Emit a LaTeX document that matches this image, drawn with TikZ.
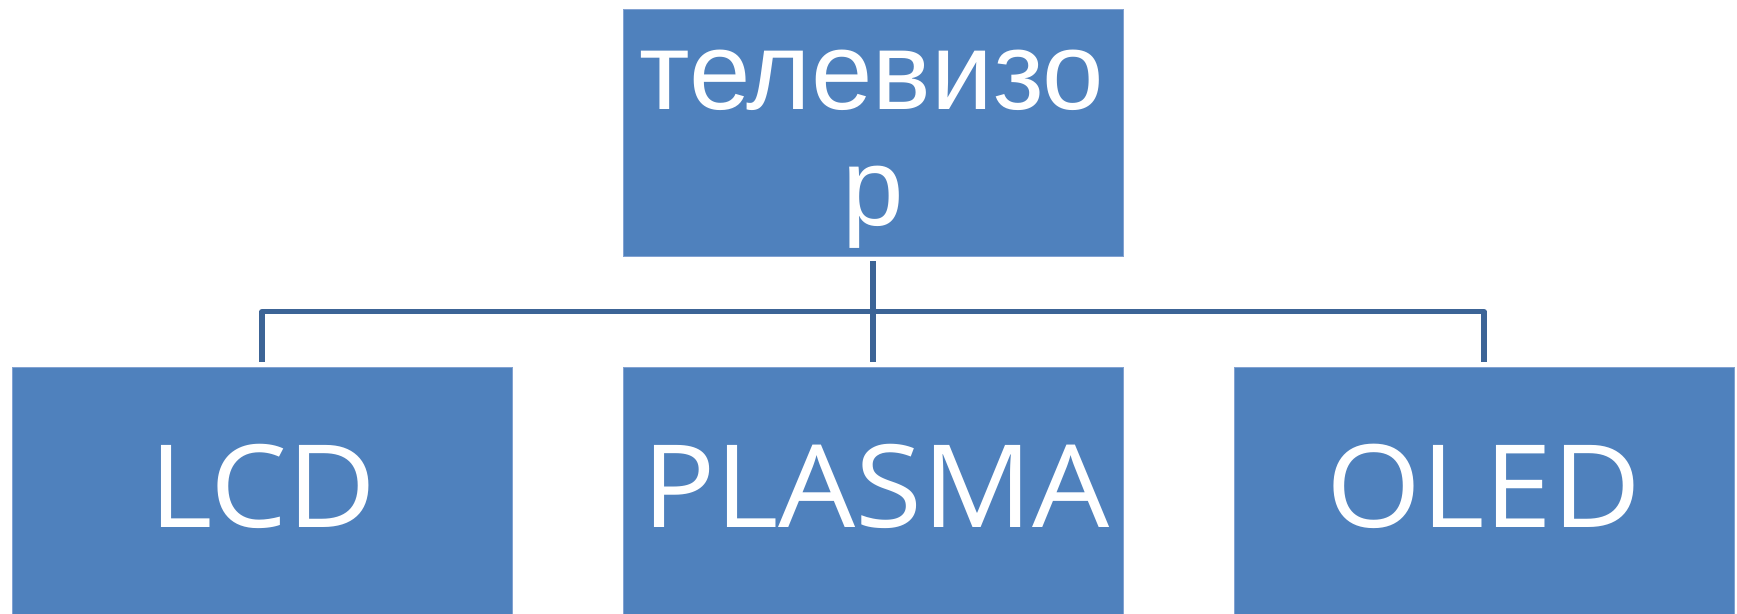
\documentclass[tikz,border=0pt]{standalone}
\usepackage{fontspec}
\usetikzlibrary{calc}
\newfontfamily\arialf{Liberation Sans}
\newfontfamily\calf[FakeStretch=1.06]{Open Sans}
\definecolor{boxblue}{RGB}{79,129,189}
\definecolor{boxedge}{RGB}{130,162,210}
\definecolor{connblue}{RGB}{60,100,150}
\tikzset{
  box/.style={rectangle, fill=boxblue, draw=boxedge, line width=0.8pt, minimum width=500pt, minimum height=247pt, inner sep=0pt},
  toptext/.style={text=white, anchor=base, inner sep=0pt, font=\arialf\fontsize{110.5}{116}\selectfont},
  bottext/.style={text=white, anchor=base, inner sep=0pt, font=\calf\fontsize{115}{138}\selectfont},
  conn/.style={draw=connblue, line width=5.2pt, line join=round}
}
\begin{document}
\begin{tikzpicture}[x=1pt,y=-1pt]
\useasboundingbox (0,0) rectangle (1737,613);
\node[box] (top) at (873,132.5) {};
\node[box] (lcd) at (262,490.5) {};
\node[box] (mid) at (873,490.5) {};
\node[box] (oled) at (1484,490.5) {};
\node[toptext] (t1) at (872,109) {телевизо};
\node[toptext] (t2) at (873,225) {р};
\node[bottext] (l1) at (263,527) {LCD};
\node[bottext] (l2) at (876,527) {PLASMA};
\node[bottext] (l3) at (1484,527) {OLED};
\coordinate (bar) at ($(top.south)!0.5!(mid.north)$);
\draw[conn] ([yshift=-5pt]top.south) -- ([yshift=5pt]mid.north);
\draw[conn] ([yshift=5pt]lcd.north) |- (bar) -| ([yshift=5pt]oled.north);
\end{tikzpicture}
\end{document}
